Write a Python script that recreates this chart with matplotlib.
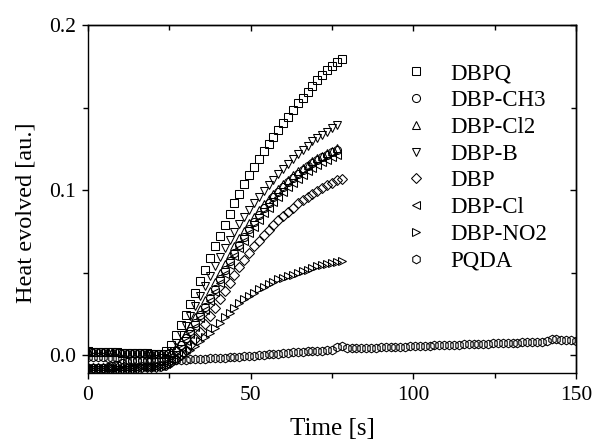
import numpy as np
import matplotlib
matplotlib.use("Agg")
import matplotlib.pyplot as plt
from matplotlib.ticker import MultipleLocator, NullFormatter

plt.rcParams['font.family'] = ['Liberation Serif', 'DejaVu Serif']

# ---------------- data ----------------
dt_rise = 1.5   # sampling step of the rising curves [s]
dt_pqda = 1.5   # sampling step of PQDA [s]

upper_base = [0.0025, 0.0024, 0.0023, 0.0022, 0.0021, 0.0020, 0.0019, 0.0018,
              0.0017, 0.0016, 0.0015, 0.0014, 0.0013, 0.0012, 0.0011, 0.0011]
lower_base = [-0.0076, -0.0076, -0.0075, -0.0075, -0.0075, -0.0074, -0.0074, -0.0074,
              -0.0073, -0.0073, -0.0073, -0.0072, -0.0072, -0.0071, -0.0069, -0.0063]
ch3_base = [-0.0075, -0.0075, -0.0074, -0.0073, -0.0071, -0.0066, -0.0058, -0.0048,
            -0.0040, -0.0034, -0.0030, -0.0028, -0.0026, -0.0024, -0.0021, -0.0018]

dbpq = upper_base + [0.0025, 0.0065, 0.0125, 0.0185, 0.0245, 0.031, 0.038, 0.045, 0.052,
                     0.059, 0.066, 0.0725, 0.079, 0.0855, 0.092, 0.098, 0.104, 0.109,
                     0.114, 0.119, 0.1235, 0.128, 0.1325, 0.1365, 0.1405, 0.1445, 0.1485,
                     0.1525, 0.156, 0.1595, 0.163, 0.1665, 0.1695, 0.1725, 0.175, 0.1775,
                     0.1795]
dbp_ch3 = ch3_base + [-0.0015, 0.000, 0.003, 0.0065, 0.0105, 0.015, 0.0195, 0.0245, 0.0295,
                      0.035, 0.0405, 0.046, 0.0515, 0.057, 0.062, 0.067, 0.072, 0.0765,
                      0.081, 0.085, 0.089, 0.0925, 0.096, 0.099, 0.102, 0.105, 0.1075,
                      0.110, 0.1125, 0.1145, 0.1165, 0.1185, 0.120, 0.1215, 0.123, 0.1245]
dbp_cl2 = upper_base + [0.001, 0.002, 0.005, 0.009, 0.0135, 0.018, 0.023, 0.028, 0.0335,
                        0.039, 0.0445, 0.050, 0.0555, 0.061, 0.066, 0.071, 0.0755, 0.080,
                        0.084, 0.088, 0.0915, 0.095, 0.098, 0.101, 0.104, 0.1065, 0.109,
                        0.1115, 0.1135, 0.1155, 0.1175, 0.1195, 0.121, 0.1225, 0.124, 0.1255]
dbp_b = upper_base + [0.001, 0.003, 0.0075, 0.0125, 0.018, 0.024, 0.030, 0.036, 0.042,
                      0.048, 0.054, 0.0595, 0.065, 0.070, 0.075, 0.0795, 0.084, 0.088,
                      0.092, 0.096, 0.0995, 0.103, 0.1065, 0.110, 0.113, 0.116, 0.119,
                      0.122, 0.1245, 0.127, 0.1295, 0.1315, 0.1335, 0.1355, 0.1375, 0.1395]
dbp = lower_base + [-0.006, -0.004, -0.002, 0.0005, 0.0035, 0.0065, 0.010, 0.0145, 0.019,
                    0.024, 0.029, 0.034, 0.039, 0.044, 0.049, 0.0535, 0.058, 0.062, 0.066,
                    0.0695, 0.073, 0.076, 0.079, 0.082, 0.0845, 0.087, 0.0895, 0.092, 0.094,
                    0.096, 0.098, 0.0998, 0.1015, 0.103, 0.1045, 0.106, 0.107]
dbp_cl = lower_base + [-0.005, -0.002, 0.001, 0.0045, 0.0085, 0.013, 0.0175, 0.0225, 0.0275,
                       0.033, 0.0385, 0.044, 0.0495, 0.055, 0.060, 0.065, 0.0695, 0.074,
                       0.078, 0.082, 0.086, 0.0895, 0.093, 0.096, 0.099, 0.102, 0.1045,
                       0.107, 0.1095, 0.1115, 0.1135, 0.1155, 0.117, 0.1185, 0.120, 0.1215]
dbp_no2 = lower_base + [-0.0065, -0.005, -0.003, -0.001, 0.0015, 0.0035, 0.006, 0.0085,
                        0.011, 0.0135, 0.0165, 0.0195, 0.023, 0.026, 0.029, 0.0315, 0.034,
                        0.036, 0.038, 0.040, 0.0415, 0.043, 0.0445, 0.046, 0.047, 0.048,
                        0.049, 0.050, 0.051, 0.052, 0.053, 0.054, 0.0548, 0.0555, 0.056,
                        0.0565, 0.057]
pqda = [-0.0010, -0.0010, -0.0011, -0.0012, -0.0013, -0.0015, -0.0018, -0.0022, -0.0026,
        -0.0030, -0.0032, -0.0033, -0.0033, -0.0033, -0.0032, -0.0031, -0.0030, -0.0029,
        -0.0028, -0.0027, -0.0025, -0.0024, -0.0022, -0.0021, -0.0019, -0.0018, -0.0016,
        -0.0014, -0.0013, -0.0011, -0.0009, -0.0007, -0.0005, -0.0003, -0.0001, 0.0001,
        0.0003, 0.0006, 0.0009, 0.0012, 0.0015, 0.0018, 0.0020, 0.0022, 0.0024, 0.0026,
        0.0027, 0.0029, 0.0030, 0.0032, 0.0033, 0.0050, 0.0055, 0.0045, 0.0043, 0.0044,
        0.0045, 0.0046, 0.0047, 0.0048, 0.0049, 0.0050, 0.0051, 0.0052, 0.0053, 0.0054,
        0.0055, 0.0056, 0.0057, 0.0058, 0.0060, 0.0061, 0.0062, 0.0063, 0.0064, 0.0065,
        0.0066, 0.0067, 0.0068, 0.0069, 0.0070, 0.0071, 0.0072, 0.0073, 0.0074, 0.0075,
        0.0076, 0.0077, 0.0078, 0.0079, 0.0080, 0.0081, 0.0082, 0.0083, 0.0086, 0.0102,
        0.0100, 0.0093, 0.0091, 0.0091, 0.0090]

labels = ['DBPQ', 'DBP-CH3', 'DBP-Cl2', 'DBP-B', 'DBP', 'DBP-Cl', 'DBP-NO2', 'PQDA']
series = [dbpq, dbp_ch3, dbp_cl2, dbp_b, dbp, dbp_cl, dbp_no2, pqda]
steps = [dt_rise] * 7 + [dt_pqda]
markers = ['s', 'o', '^', 'v', 'D', '<', '>', 'h']
msizes = [5.8, 5.8, 6.0, 6.0, 4.6, 6.0, 6.0, 6.2]

x_ticks = [0, 50, 100, 150]
y_ticks = [0.0, 0.1, 0.2]
y_ticklabels = ['0.0', '0.1', '0.2']

# ---------------- figure ----------------
fig = plt.figure(figsize=(5.93, 4.41), dpi=100)
ax = fig.add_axes([88 / 593, 1 - 373 / 441, (576 - 88) / 593, (373 - 25) / 441])

for vals, st, mk, ms, lab in zip(series, steps, markers, msizes, labels):
    t = np.arange(len(vals)) * st
    ax.plot(t, vals, linestyle='none', marker=mk, markersize=ms,
            markerfacecolor='none', markeredgecolor='black',
            markeredgewidth=0.75, label=lab)

ax.set_xlim(0, 150)
ax.set_ylim(-0.0106, 0.2)
ax.set_xticks(x_ticks)
ax.set_xticklabels([str(v) for v in x_ticks])
ax.set_yticks(y_ticks)
ax.set_yticklabels(y_ticklabels)
ax.xaxis.set_minor_locator(MultipleLocator(25))
ax.yaxis.set_minor_locator(MultipleLocator(0.05))

for s in ax.spines.values():
    s.set_linewidth(1.0)

ax.tick_params(which='both', direction='out', width=1.0, labelsize=15.5,
               top=False, right=False)
ax.tick_params(axis='x', pad=4.5)
ax.tick_params(axis='y', pad=4)
ax.tick_params(which='major', length=4.5)
ax.tick_params(which='minor', length=3.5)

# mirrored inward ticks on top and right
sx = ax.secondary_xaxis('top')
sx.set_xticks(x_ticks)
sx.xaxis.set_minor_locator(MultipleLocator(25))
sx.tick_params(which='both', direction='in', width=1.0, labeltop=False)
sx.tick_params(which='major', length=4.5)
sx.tick_params(which='minor', length=3.5)
sx.xaxis.set_major_formatter(NullFormatter())
sy = ax.secondary_yaxis('right')
sy.set_yticks(y_ticks)
sy.yaxis.set_minor_locator(MultipleLocator(0.05))
sy.tick_params(which='both', direction='in', width=1.0, labelright=False)
sy.tick_params(which='major', length=4.5)
sy.tick_params(which='minor', length=3.5)
sy.yaxis.set_major_formatter(NullFormatter())
for sec in (sx, sy):
    for s in sec.spines.values():
        s.set_linewidth(1.0)

ax.set_xlabel('Time [s]', fontsize=18, labelpad=10)
ax.set_ylabel('Heat evolved [au.]', fontsize=17.5)
ax.yaxis.set_label_coords((37 - 88) / 488, (373 - 213) / 348)

leg = ax.legend(loc='upper left', bbox_to_anchor=(0.649, 0.89), frameon=False,
                fontsize=16.5, handlelength=1.0, handletextpad=1.0,
                labelspacing=0.25, borderaxespad=0.0, borderpad=0.0)

fig.savefig('out.png', dpi=100)
